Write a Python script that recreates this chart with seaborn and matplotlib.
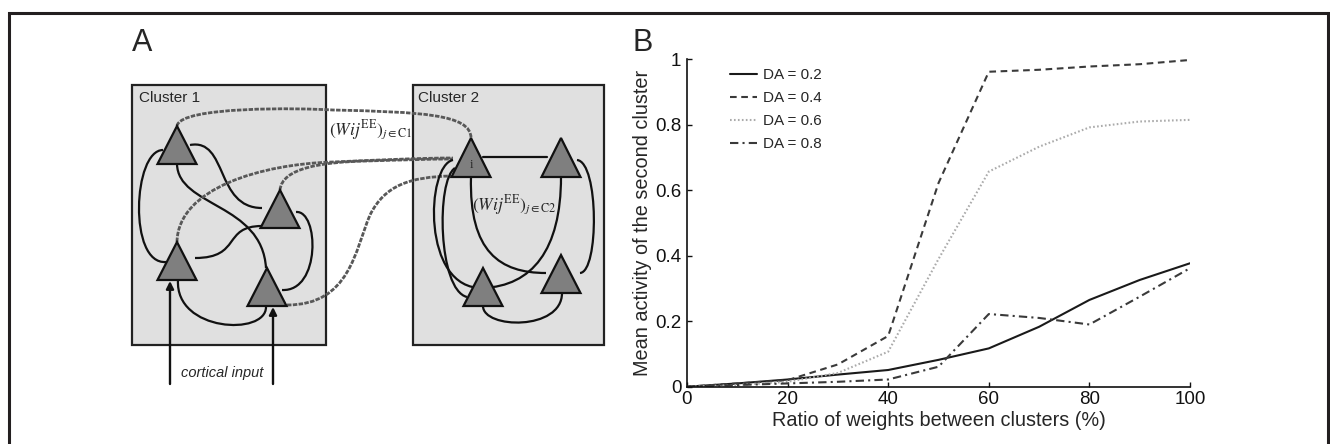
import numpy as np
import pandas as pd
import matplotlib
matplotlib.use('Agg')
import matplotlib.pyplot as plt
from matplotlib.path import Path
from matplotlib.patches import PathPatch, Rectangle, Polygon
import seaborn as sns

# panel B data
ratio = [0, 10, 20, 30, 40, 50, 60, 70, 80, 90, 100]
da_02 = [0, 0.010, 0.022, 0.037, 0.051, 0.082, 0.117, 0.183, 0.265, 0.326, 0.377]
da_04 = [0, 0.010, 0.020, 0.068, 0.155, 0.622, 0.962, 0.968, 0.978, 0.985, 0.998]
da_06 = [0, 0.005, 0.015, 0.042, 0.107, 0.390, 0.657, 0.733, 0.792, 0.810, 0.815]
da_08 = [0, 0.005, 0.010, 0.015, 0.022, 0.061, 0.222, 0.210, 0.190, 0.275, 0.362]
series_names = ['DA = 0.2', 'DA = 0.4', 'DA = 0.6', 'DA = 0.8']

sns.set_style('ticks')
plt.rcParams['font.family'] = ['Liberation Sans', 'DejaVu Sans']
plt.rcParams['mathtext.fontset'] = 'stix'

fig = plt.figure(figsize=(13.3, 4.44), dpi=100)

# ---- panel A: schematic, drawn in pixel coordinates ----
ax0 = fig.add_axes([0, 0, 1, 1])
ax0.set_xlim(0, 1330)
ax0.set_ylim(444, 0)
ax0.axis('off')

# outer frame (no bottom edge)
ax0.plot([8.5, 8.5, 1328, 1328], [446, 13.5, 13.5, 446], color='#231f20', lw=2.2,
         solid_capstyle='butt', solid_joinstyle='miter')

for x0, x1 in [(132, 326), (412.5, 604)]:
    ax0.add_patch(Rectangle((x0, 85.5), x1 - x0, 345 - 85.5, facecolor='#e0e0e0',
                            edgecolor='#222222', lw=1.6, zorder=1))


def bez(pts, **kw):
    codes = [Path.MOVETO] + [Path.CURVE4] * (len(pts) - 1)
    ax0.add_patch(PathPatch(Path(pts, codes), facecolor='none', zorder=2, **kw))


black = dict(edgecolor='#111111', lw=1.6)
grey = dict(edgecolor='#585858', lw=2.0, linestyle=(0, (1.6, 0.5)))

# cluster 1 wiring
bez([(163, 150), (133, 150), (128, 265), (166, 262)], **black)
bez([(190, 145), (228, 138), (215, 208), (262, 208)], **black)
bez([(177, 164), (178, 207), (262, 203), (266, 268)], **black)
bez([(296, 212), (319, 210), (321, 292), (282, 290)], **black)
bez([(195, 258), (242, 258), (222, 226), (262, 226)], **black)
bez([(178, 280), (175, 332), (266, 336), (266, 307)], **black)

# links between clusters
bez([(177, 126), (180, 106), (300, 108), (333, 110),
     (420, 112), (471, 114), (471, 138)], **grey)
bez([(177, 242), (178, 188), (262, 164), (333, 162),
     (380, 160), (420, 158), (453, 158)], **grey)
bez([(280, 190), (282, 168), (322, 162), (366, 161),
     (400, 160), (430, 159), (453, 159)], **grey)
bez([(287, 305), (350, 305), (355, 250), (370, 215),
     (385, 185), (410, 177), (451, 176)], **grey)

# cluster 2 wiring
ax0.plot([483, 547], [157.5, 157.5], color='#111111', lw=1.6, zorder=2)
bez([(453, 160), (426, 165), (421, 290), (483, 288),
     (532, 286), (561, 250), (561, 177)], **black)
bez([(455, 168), (436, 180), (438, 290), (467, 297)], **black)
bez([(471, 177), (469, 252), (500, 273), (546, 273)], **black)
bez([(577, 160), (599, 162), (599, 272), (580, 273)], **black)
bez([(483, 306), (483, 329), (562, 331), (562, 293)], **black)

triangles = [(177, 126, 164), (280, 190, 228), (177, 242, 280), (267, 268, 306),
             (471, 138, 177), (561, 138, 177), (483, 268, 306), (561, 255, 293)]
for cx, top, base in triangles:
    ax0.add_patch(Polygon([(cx, top), (cx - 19.5, base), (cx + 19.5, base)],
                          closed=True, facecolor='#7f7f7f', edgecolor='#111111',
                          lw=1.6, zorder=3))

for ax_x, tip in [(170, 281), (273, 307)]:
    ax0.annotate('', xy=(ax_x, tip), xytext=(ax_x, 384),
                 arrowprops=dict(arrowstyle='-|>', color='#111111', lw=1.7,
                                 mutation_scale=11, shrinkA=0, shrinkB=0),
                 zorder=4)

ax0.text(139, 98, 'Cluster 1', fontsize=11, va='center', ha='left', zorder=5)
ax0.text(418, 98, 'Cluster 2', fontsize=11, va='center', ha='left', zorder=5)
ax0.text(222, 373, 'cortical input', fontsize=10.5, style='italic', ha='center',
         va='center', zorder=5)
ax0.text(471, 165, 'i', fontsize=9, family='Liberation Serif', ha='center',
         va='center', zorder=5)
ax0.text(329, 130, r'$(Wij^{\mathrm{EE}})_{j\in\mathrm{C1}}$', fontsize=12.5,
         ha='left', va='center', zorder=5)
ax0.text(472, 205, r'$(Wij^{\mathrm{EE}})_{j\in\mathrm{C2}}$', fontsize=12.5,
         ha='left', va='center', zorder=5)

fig.text(141.7 / 1330, 1 - 43 / 444, 'A', fontsize=22, ha='center', va='center')
fig.text(643 / 1330, 1 - 43 / 444, 'B', fontsize=22, ha='center', va='center')

# ---- panel B: line chart ----
df = pd.DataFrame({
    'ratio': ratio * 4,
    'activity': da_02 + da_04 + da_06 + da_08,
    'series': np.repeat(series_names, len(ratio)),
})

palette = dict(zip(series_names, ['#1a1a1a', '#3a3a3a', '#ababab', '#3a3a3a']))
dashes = dict(zip(series_names, ['', (3.2, 2.2), (0.8, 1.1), (4, 2, 1, 2)]))

ax = fig.add_axes([687 / 1330, 1 - 386.7 / 444, 503 / 1330, 327.4 / 444])
sns.lineplot(data=df, x='ratio', y='activity', hue='series', style='series',
             palette=palette, dashes=dashes, linewidth=1.5, ax=ax)

ax.set_xlim(0, 100)
ax.set_ylim(0, 1)
ax.set_xticks([0, 20, 40, 60, 80, 100])
ax.set_yticks([0, 0.2, 0.4, 0.6, 0.8, 1])
ax.set_yticklabels(['0', '0.2', '0.4', '0.6', '0.8', '1'])
ax.tick_params(direction='in', length=3.5, width=1, labelsize=13.5, pad=4,
               colors='#111111')
ax.tick_params(axis='x', pad=3)
for s in ['top', 'right']:
    ax.spines[s].set_visible(False)
for s in ['left', 'bottom']:
    ax.spines[s].set_linewidth(1.2)
    ax.spines[s].set_color('#111111')

ax.set_xlabel('Ratio of weights between clusters (%)', fontsize=14.3, labelpad=2)
ax.set_ylabel('Mean activity of the second cluster', fontsize=14.3, labelpad=2)

handles, labels = ax.get_legend_handles_labels()
ax.legend(handles, labels, loc='upper left', bbox_to_anchor=(0.085, 0.972),
          frameon=False, fontsize=11, handlelength=1.8, handletextpad=0.4,
          labelspacing=0.58, borderpad=0, borderaxespad=0)

fig.savefig('out.png', dpi=100)
